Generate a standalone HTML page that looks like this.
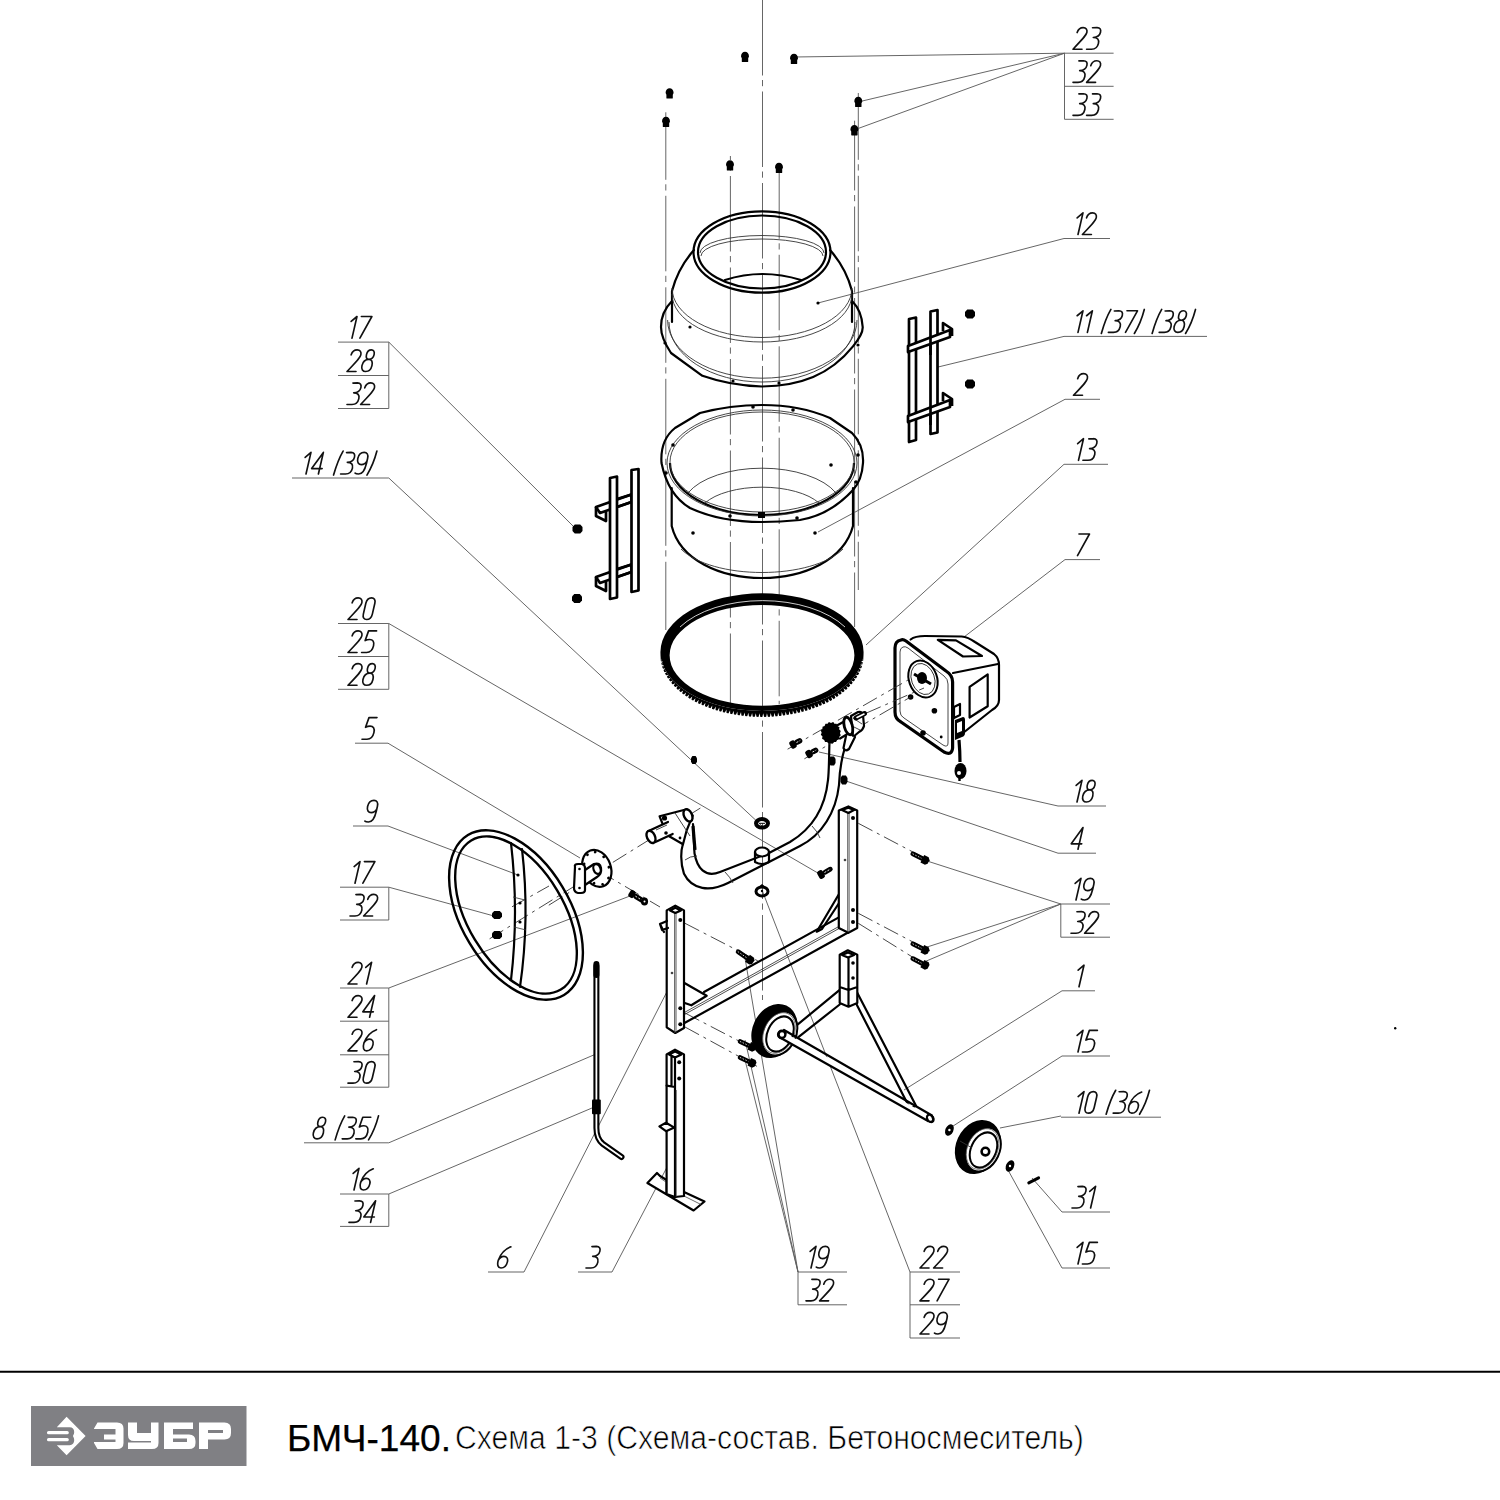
<!DOCTYPE html><html><head><meta charset="utf-8"><style>
html,body{margin:0;padding:0;background:#fff;width:1500px;height:1500px;overflow:hidden}
svg{position:absolute;left:0;top:0}
.t1{position:absolute;left:287.1px;top:1419px;font-family:"Liberation Sans",sans-serif;font-size:36px;line-height:40px;color:#000;white-space:nowrap;-webkit-text-stroke:0.25px #000;transform-origin:0 0;transform:scaleX(1.03)}
.t2{position:absolute;left:455.1px;top:1418px;font-family:"Liberation Sans",sans-serif;font-size:33px;line-height:40px;color:#000;white-space:nowrap;transform-origin:0 0;transform:scaleX(0.914);-webkit-text-stroke:0.7px #fff}
</style></head><body>
<svg width="1500" height="1500" viewBox="0 0 1500 1500">
<line x1="762.5" y1="0" x2="762.5" y2="1000" stroke="#5e5e5e" stroke-width="0.95" stroke-dasharray="75.5 4.5 6.2 5.3"/><line x1="665.8" y1="112.3" x2="665.8" y2="630" stroke="#5e5e5e" stroke-width="0.95" stroke-dasharray="75.5 4.5 6.2 5.3" stroke-dashoffset="8"/><line x1="730.4" y1="156" x2="730.4" y2="704" stroke="#5e5e5e" stroke-width="0.95" stroke-dasharray="75.5 4.5 6.2 5.3" stroke-dashoffset="-20"/><line x1="779.2" y1="158.3" x2="779.2" y2="704" stroke="#5e5e5e" stroke-width="0.95" stroke-dasharray="75.5 4.5 6.2 5.3" stroke-dashoffset="-5"/><line x1="858.3" y1="93" x2="858.3" y2="590" stroke="#5e5e5e" stroke-width="0.95" stroke-dasharray="75.5 4.5 6.2 5.3" stroke-dashoffset="8.7"/><line x1="854.6" y1="120.7" x2="854.6" y2="627" stroke="#5e5e5e" stroke-width="0.95" stroke-dasharray="75.5 4.5 6.2 5.3" stroke-dashoffset="5.7"/>
<g transform="translate(1073,49.2) skewX(-13) scale(1,0.9)" fill="none" stroke="#111" stroke-width="1.65" stroke-linecap="round" stroke-linejoin="round"><path d="M0.3,-18.5 C0.6,-22 2.6,-24 5.2,-24 C8,-24 10,-22 10,-18.5 C10,-15.5 8.5,-13 0,0 H9" transform="translate(0.00,0)" vector-effect="non-scaling-stroke"/><path d="M1,-23.8 L5.5,-24 C8.5,-24 10,-22 10,-18.8 C10,-15.3 7.8,-13.2 4,-13 C8.2,-13 10.5,-10.5 10.5,-6.5 C10.5,-2.5 8.2,0 5,0 H0" transform="translate(13.60,0)" vector-effect="non-scaling-stroke"/></g><line x1="1064.5" y1="53.2" x2="1113.6" y2="53.2" stroke="#5e5e5e" stroke-width="0.95" /><g transform="translate(1073,82.3) skewX(-13) scale(1,0.9)" fill="none" stroke="#111" stroke-width="1.65" stroke-linecap="round" stroke-linejoin="round"><path d="M1,-23.8 L5.5,-24 C8.5,-24 10,-22 10,-18.8 C10,-15.3 7.8,-13.2 4,-13 C8.2,-13 10.5,-10.5 10.5,-6.5 C10.5,-2.5 8.2,0 5,0 H0" transform="translate(0.00,0)" vector-effect="non-scaling-stroke"/><path d="M0.3,-18.5 C0.6,-22 2.6,-24 5.2,-24 C8,-24 10,-22 10,-18.5 C10,-15.5 8.5,-13 0,0 H9" transform="translate(13.60,0)" vector-effect="non-scaling-stroke"/></g><line x1="1064.5" y1="86.3" x2="1113.6" y2="86.3" stroke="#5e5e5e" stroke-width="0.95" /><g transform="translate(1073,115.3) skewX(-13) scale(1,0.9)" fill="none" stroke="#111" stroke-width="1.65" stroke-linecap="round" stroke-linejoin="round"><path d="M1,-23.8 L5.5,-24 C8.5,-24 10,-22 10,-18.8 C10,-15.3 7.8,-13.2 4,-13 C8.2,-13 10.5,-10.5 10.5,-6.5 C10.5,-2.5 8.2,0 5,0 H0" transform="translate(0.00,0)" vector-effect="non-scaling-stroke"/><path d="M1,-23.8 L5.5,-24 C8.5,-24 10,-22 10,-18.8 C10,-15.3 7.8,-13.2 4,-13 C8.2,-13 10.5,-10.5 10.5,-6.5 C10.5,-2.5 8.2,0 5,0 H0" transform="translate(13.60,0)" vector-effect="non-scaling-stroke"/></g><line x1="1064.5" y1="119.3" x2="1113.6" y2="119.3" stroke="#5e5e5e" stroke-width="0.95" /><line x1="1064.5" y1="53.2" x2="1064.5" y2="119.3" stroke="#5e5e5e" stroke-width="0.95" /><line x1="1064.5" y1="53.2" x2="794" y2="57" stroke="#5e5e5e" stroke-width="0.95" /><line x1="1064.5" y1="53.2" x2="858" y2="102" stroke="#5e5e5e" stroke-width="0.95" /><line x1="1064.5" y1="53.2" x2="854" y2="130" stroke="#5e5e5e" stroke-width="0.95" /><g transform="translate(1073,234.5) skewX(-13) scale(1,0.9)" fill="none" stroke="#111" stroke-width="1.65" stroke-linecap="round" stroke-linejoin="round"><path d="M0.3,-18.5 L5,-24 V0" transform="translate(0.00,0)" vector-effect="non-scaling-stroke"/><path d="M0.3,-18.5 C0.6,-22 2.6,-24 5.2,-24 C8,-24 10,-22 10,-18.5 C10,-15.5 8.5,-13 0,0 H9" transform="translate(9.40,0)" vector-effect="non-scaling-stroke"/></g><line x1="1064" y1="238.5" x2="1110" y2="238.5" stroke="#5e5e5e" stroke-width="0.95" /><line x1="1064" y1="238.5" x2="818" y2="303" stroke="#5e5e5e" stroke-width="0.95" /><g transform="translate(1073,332.4) skewX(-13) scale(1,0.9)" fill="none" stroke="#111" stroke-width="1.65" stroke-linecap="round" stroke-linejoin="round"><path d="M0.3,-18.5 L5,-24 V0" transform="translate(0.00,0)" vector-effect="non-scaling-stroke"/><path d="M0.3,-18.5 L5,-24 V0" transform="translate(9.40,0)" vector-effect="non-scaling-stroke"/><path d="M5.8,-25.5 C3.4,-18 2.3,-9 1.8,1.2" transform="translate(26.80,0)" vector-effect="non-scaling-stroke"/><path d="M1,-23.8 L5.5,-24 C8.5,-24 10,-22 10,-18.8 C10,-15.3 7.8,-13.2 4,-13 C8.2,-13 10.5,-10.5 10.5,-6.5 C10.5,-2.5 8.2,0 5,0 H0" transform="translate(35.40,0)" vector-effect="non-scaling-stroke"/><path d="M0,-24 H10.5 L3.5,0" transform="translate(49.00,0)" vector-effect="non-scaling-stroke"/><path d="M3.8,-25.5 C3.6,-17 2.2,-7 -0.6,1.2" transform="translate(62.20,0)" vector-effect="non-scaling-stroke"/><path d="M5.8,-25.5 C3.4,-18 2.3,-9 1.8,1.2" transform="translate(77.60,0)" vector-effect="non-scaling-stroke"/><path d="M1,-23.8 L5.5,-24 C8.5,-24 10,-22 10,-18.8 C10,-15.3 7.8,-13.2 4,-13 C8.2,-13 10.5,-10.5 10.5,-6.5 C10.5,-2.5 8.2,0 5,0 H0" transform="translate(86.20,0)" vector-effect="non-scaling-stroke"/><path d="M5.5,-13.5 C3.2,-13.5 2,-15.5 2,-18.7 C2,-22 3.6,-24 5.8,-24 C8,-24 9.6,-22 9.6,-18.8 C9.6,-15.5 8,-13.5 5.5,-13.5 C2,-13.5 0,-10.5 0,-6.5 C0,-2.5 2.2,0 5,0 C8,0 10,-2.5 10,-6.5 C10,-10.5 8.5,-13.5 5.5,-13.5 Z" transform="translate(99.80,0)" vector-effect="non-scaling-stroke"/><path d="M3.8,-25.5 C3.6,-17 2.2,-7 -0.6,1.2" transform="translate(113.40,0)" vector-effect="non-scaling-stroke"/></g><line x1="1064" y1="336.4" x2="1207" y2="336.4" stroke="#5e5e5e" stroke-width="0.95" /><line x1="1064" y1="336.4" x2="934" y2="368" stroke="#5e5e5e" stroke-width="0.95" /><g transform="translate(1073.5,395.3) skewX(-13) scale(1,0.9)" fill="none" stroke="#111" stroke-width="1.65" stroke-linecap="round" stroke-linejoin="round"><path d="M0.3,-18.5 C0.6,-22 2.6,-24 5.2,-24 C8,-24 10,-22 10,-18.5 C10,-15.5 8.5,-13 0,0 H9" transform="translate(0.00,0)" vector-effect="non-scaling-stroke"/></g><line x1="1065" y1="399.3" x2="1100" y2="399.3" stroke="#5e5e5e" stroke-width="0.95" /><line x1="1065" y1="399.3" x2="818" y2="532" stroke="#5e5e5e" stroke-width="0.95" /><g transform="translate(1073.5,460.3) skewX(-13) scale(1,0.9)" fill="none" stroke="#111" stroke-width="1.65" stroke-linecap="round" stroke-linejoin="round"><path d="M0.3,-18.5 L5,-24 V0" transform="translate(0.00,0)" vector-effect="non-scaling-stroke"/><path d="M1,-23.8 L5.5,-24 C8.5,-24 10,-22 10,-18.8 C10,-15.3 7.8,-13.2 4,-13 C8.2,-13 10.5,-10.5 10.5,-6.5 C10.5,-2.5 8.2,0 5,0 H0" transform="translate(9.40,0)" vector-effect="non-scaling-stroke"/></g><line x1="1064" y1="464.3" x2="1108" y2="464.3" stroke="#5e5e5e" stroke-width="0.95" /><line x1="1064" y1="464.3" x2="866" y2="645" stroke="#5e5e5e" stroke-width="0.95" /><g transform="translate(1074,555.6) skewX(-13) scale(1,0.9)" fill="none" stroke="#111" stroke-width="1.65" stroke-linecap="round" stroke-linejoin="round"><path d="M0,-24 H10.5 L3.5,0" transform="translate(0.00,0)" vector-effect="non-scaling-stroke"/></g><line x1="1065" y1="559.6" x2="1100" y2="559.6" stroke="#5e5e5e" stroke-width="0.95" /><line x1="1065" y1="559.6" x2="964" y2="637" stroke="#5e5e5e" stroke-width="0.95" /><g transform="translate(1072,802) skewX(-13) scale(1,0.9)" fill="none" stroke="#111" stroke-width="1.65" stroke-linecap="round" stroke-linejoin="round"><path d="M0.3,-18.5 L5,-24 V0" transform="translate(0.00,0)" vector-effect="non-scaling-stroke"/><path d="M5.5,-13.5 C3.2,-13.5 2,-15.5 2,-18.7 C2,-22 3.6,-24 5.8,-24 C8,-24 9.6,-22 9.6,-18.8 C9.6,-15.5 8,-13.5 5.5,-13.5 C2,-13.5 0,-10.5 0,-6.5 C0,-2.5 2.2,0 5,0 C8,0 10,-2.5 10,-6.5 C10,-10.5 8.5,-13.5 5.5,-13.5 Z" transform="translate(9.40,0)" vector-effect="non-scaling-stroke"/></g><line x1="1058" y1="806" x2="1106" y2="806" stroke="#5e5e5e" stroke-width="0.95" /><line x1="1058" y1="806" x2="819" y2="752" stroke="#5e5e5e" stroke-width="0.95" /><g transform="translate(1070,849.2) skewX(-13) scale(1,0.9)" fill="none" stroke="#111" stroke-width="1.65" stroke-linecap="round" stroke-linejoin="round"><path d="M8,0 V-24 L0,-6 H10.5" transform="translate(0.00,0)" vector-effect="non-scaling-stroke"/></g><line x1="1058" y1="853.2" x2="1096" y2="853.2" stroke="#5e5e5e" stroke-width="0.95" /><line x1="1058" y1="853.2" x2="843" y2="780" stroke="#5e5e5e" stroke-width="0.95" /><g transform="translate(1071,900) skewX(-13) scale(1,0.9)" fill="none" stroke="#111" stroke-width="1.65" stroke-linecap="round" stroke-linejoin="round"><path d="M0.3,-18.5 L5,-24 V0" transform="translate(0.00,0)" vector-effect="non-scaling-stroke"/><path d="M0.7,-1 C1.6,-0.2 3.2,0 4.4,0 C7.9,0 9.8,-3.5 9.8,-12 V-17.5 C9.8,-21.7 7.8,-24 5,-24 C2,-24 0,-21.7 0,-17.2 C0,-13 2.2,-10.4 5,-10.4 C7.4,-10.4 9.2,-12 9.8,-14.5" transform="translate(9.40,0)" vector-effect="non-scaling-stroke"/></g><line x1="1060.8" y1="904" x2="1110" y2="904" stroke="#5e5e5e" stroke-width="0.95" /><g transform="translate(1071,933.2) skewX(-13) scale(1,0.9)" fill="none" stroke="#111" stroke-width="1.65" stroke-linecap="round" stroke-linejoin="round"><path d="M1,-23.8 L5.5,-24 C8.5,-24 10,-22 10,-18.8 C10,-15.3 7.8,-13.2 4,-13 C8.2,-13 10.5,-10.5 10.5,-6.5 C10.5,-2.5 8.2,0 5,0 H0" transform="translate(0.00,0)" vector-effect="non-scaling-stroke"/><path d="M0.3,-18.5 C0.6,-22 2.6,-24 5.2,-24 C8,-24 10,-22 10,-18.5 C10,-15.5 8.5,-13 0,0 H9" transform="translate(13.60,0)" vector-effect="non-scaling-stroke"/></g><line x1="1060.8" y1="937.2" x2="1110" y2="937.2" stroke="#5e5e5e" stroke-width="0.95" /><line x1="1060.8" y1="904" x2="1060.8" y2="937.2" stroke="#5e5e5e" stroke-width="0.95" /><line x1="1060.8" y1="904" x2="924" y2="860" stroke="#5e5e5e" stroke-width="0.95" /><line x1="1060.8" y1="904" x2="924" y2="948" stroke="#5e5e5e" stroke-width="0.95" /><line x1="1060.8" y1="904" x2="924" y2="962" stroke="#5e5e5e" stroke-width="0.95" /><g transform="translate(1074,986.8) skewX(-13) scale(1,0.9)" fill="none" stroke="#111" stroke-width="1.65" stroke-linecap="round" stroke-linejoin="round"><path d="M0.3,-18.5 L5,-24 V0" transform="translate(0.00,0)" vector-effect="non-scaling-stroke"/></g><line x1="1062" y1="990.8" x2="1095" y2="990.8" stroke="#5e5e5e" stroke-width="0.95" /><line x1="1062" y1="990.8" x2="904" y2="1090" stroke="#5e5e5e" stroke-width="0.95" /><g transform="translate(1073,1052) skewX(-13) scale(1,0.9)" fill="none" stroke="#111" stroke-width="1.65" stroke-linecap="round" stroke-linejoin="round"><path d="M0.3,-18.5 L5,-24 V0" transform="translate(0.00,0)" vector-effect="non-scaling-stroke"/><path d="M10,-24 H2 L0.8,-13.2 C2,-14 3.5,-14.5 5,-14.5 C8.3,-14.5 10.4,-12 10.4,-7.3 C10.4,-2.6 8.2,0 5,0 H0" transform="translate(9.40,0)" vector-effect="non-scaling-stroke"/></g><line x1="1062" y1="1056" x2="1110" y2="1056" stroke="#5e5e5e" stroke-width="0.95" /><line x1="1062" y1="1056" x2="950" y2="1128" stroke="#5e5e5e" stroke-width="0.95" /><g transform="translate(1074,1113.2) skewX(-13) scale(1,0.9)" fill="none" stroke="#111" stroke-width="1.65" stroke-linecap="round" stroke-linejoin="round"><path d="M0.3,-18.5 L5,-24 V0" transform="translate(0.00,0)" vector-effect="non-scaling-stroke"/><path d="M0.5,-18 C0.5,-22 2.5,-24 5,-24 C7.5,-24 9.5,-22 9.5,-18 V-6 C9.5,-2 7.5,0 5,0 C2.5,0 0.5,-2 0.5,-6 Z" transform="translate(9.40,0)" vector-effect="non-scaling-stroke"/><path d="M5.8,-25.5 C3.4,-18 2.3,-9 1.8,1.2" transform="translate(30.60,0)" vector-effect="non-scaling-stroke"/><path d="M1,-23.8 L5.5,-24 C8.5,-24 10,-22 10,-18.8 C10,-15.3 7.8,-13.2 4,-13 C8.2,-13 10.5,-10.5 10.5,-6.5 C10.5,-2.5 8.2,0 5,0 H0" transform="translate(39.20,0)" vector-effect="non-scaling-stroke"/><path d="M10,-23.5 C5.5,-21.5 1.4,-16.5 0.5,-8.5 C0.2,-3.5 2,0 5,0 C8.2,0 10,-3 10,-6.8 C10,-10.5 8,-13 5.2,-13 C2.8,-13 1.2,-11.2 0.5,-8.5" transform="translate(52.80,0)" vector-effect="non-scaling-stroke"/><path d="M3.8,-25.5 C3.6,-17 2.2,-7 -0.6,1.2" transform="translate(66.40,0)" vector-effect="non-scaling-stroke"/></g><line x1="1061" y1="1117.2" x2="1161" y2="1117.2" stroke="#5e5e5e" stroke-width="0.95" /><line x1="1061" y1="1116" x2="1000" y2="1128" stroke="#5e5e5e" stroke-width="0.95" /><g transform="translate(1072,1208) skewX(-13) scale(1,0.9)" fill="none" stroke="#111" stroke-width="1.65" stroke-linecap="round" stroke-linejoin="round"><path d="M1,-23.8 L5.5,-24 C8.5,-24 10,-22 10,-18.8 C10,-15.3 7.8,-13.2 4,-13 C8.2,-13 10.5,-10.5 10.5,-6.5 C10.5,-2.5 8.2,0 5,0 H0" transform="translate(0.00,0)" vector-effect="non-scaling-stroke"/><path d="M0.3,-18.5 L5,-24 V0" transform="translate(13.60,0)" vector-effect="non-scaling-stroke"/></g><line x1="1062" y1="1212" x2="1110" y2="1212" stroke="#5e5e5e" stroke-width="0.95" /><line x1="1062" y1="1212" x2="1032" y2="1178" stroke="#5e5e5e" stroke-width="0.95" /><g transform="translate(1073,1264) skewX(-13) scale(1,0.9)" fill="none" stroke="#111" stroke-width="1.65" stroke-linecap="round" stroke-linejoin="round"><path d="M0.3,-18.5 L5,-24 V0" transform="translate(0.00,0)" vector-effect="non-scaling-stroke"/><path d="M10,-24 H2 L0.8,-13.2 C2,-14 3.5,-14.5 5,-14.5 C8.3,-14.5 10.4,-12 10.4,-7.3 C10.4,-2.6 8.2,0 5,0 H0" transform="translate(9.40,0)" vector-effect="non-scaling-stroke"/></g><line x1="1062" y1="1268" x2="1110" y2="1268" stroke="#5e5e5e" stroke-width="0.95" /><line x1="1062" y1="1268" x2="1008" y2="1170" stroke="#5e5e5e" stroke-width="0.95" /><g transform="translate(806,1268) skewX(-13) scale(1,0.9)" fill="none" stroke="#111" stroke-width="1.65" stroke-linecap="round" stroke-linejoin="round"><path d="M0.3,-18.5 L5,-24 V0" transform="translate(0.00,0)" vector-effect="non-scaling-stroke"/><path d="M0.7,-1 C1.6,-0.2 3.2,0 4.4,0 C7.9,0 9.8,-3.5 9.8,-12 V-17.5 C9.8,-21.7 7.8,-24 5,-24 C2,-24 0,-21.7 0,-17.2 C0,-13 2.2,-10.4 5,-10.4 C7.4,-10.4 9.2,-12 9.8,-14.5" transform="translate(9.40,0)" vector-effect="non-scaling-stroke"/></g><line x1="798" y1="1272" x2="847" y2="1272" stroke="#5e5e5e" stroke-width="0.95" /><g transform="translate(806,1300.8) skewX(-13) scale(1,0.9)" fill="none" stroke="#111" stroke-width="1.65" stroke-linecap="round" stroke-linejoin="round"><path d="M1,-23.8 L5.5,-24 C8.5,-24 10,-22 10,-18.8 C10,-15.3 7.8,-13.2 4,-13 C8.2,-13 10.5,-10.5 10.5,-6.5 C10.5,-2.5 8.2,0 5,0 H0" transform="translate(0.00,0)" vector-effect="non-scaling-stroke"/><path d="M0.3,-18.5 C0.6,-22 2.6,-24 5.2,-24 C8,-24 10,-22 10,-18.5 C10,-15.5 8.5,-13 0,0 H9" transform="translate(13.60,0)" vector-effect="non-scaling-stroke"/></g><line x1="798" y1="1304.8" x2="847" y2="1304.8" stroke="#5e5e5e" stroke-width="0.95" /><line x1="798" y1="1272" x2="798" y2="1304.8" stroke="#5e5e5e" stroke-width="0.95" /><line x1="798" y1="1272" x2="745" y2="958" stroke="#5e5e5e" stroke-width="0.95" /><line x1="798" y1="1272" x2="745" y2="1040" stroke="#5e5e5e" stroke-width="0.95" /><line x1="798" y1="1272" x2="745" y2="1060" stroke="#5e5e5e" stroke-width="0.95" /><g transform="translate(920,1268) skewX(-13) scale(1,0.9)" fill="none" stroke="#111" stroke-width="1.65" stroke-linecap="round" stroke-linejoin="round"><path d="M0.3,-18.5 C0.6,-22 2.6,-24 5.2,-24 C8,-24 10,-22 10,-18.5 C10,-15.5 8.5,-13 0,0 H9" transform="translate(0.00,0)" vector-effect="non-scaling-stroke"/><path d="M0.3,-18.5 C0.6,-22 2.6,-24 5.2,-24 C8,-24 10,-22 10,-18.5 C10,-15.5 8.5,-13 0,0 H9" transform="translate(13.60,0)" vector-effect="non-scaling-stroke"/></g><line x1="910" y1="1272" x2="960" y2="1272" stroke="#5e5e5e" stroke-width="0.95" /><g transform="translate(920,1300.8) skewX(-13) scale(1,0.9)" fill="none" stroke="#111" stroke-width="1.65" stroke-linecap="round" stroke-linejoin="round"><path d="M0.3,-18.5 C0.6,-22 2.6,-24 5.2,-24 C8,-24 10,-22 10,-18.5 C10,-15.5 8.5,-13 0,0 H9" transform="translate(0.00,0)" vector-effect="non-scaling-stroke"/><path d="M0,-24 H10.5 L3.5,0" transform="translate(13.60,0)" vector-effect="non-scaling-stroke"/></g><line x1="910" y1="1304.8" x2="960" y2="1304.8" stroke="#5e5e5e" stroke-width="0.95" /><g transform="translate(920,1334) skewX(-13) scale(1,0.9)" fill="none" stroke="#111" stroke-width="1.65" stroke-linecap="round" stroke-linejoin="round"><path d="M0.3,-18.5 C0.6,-22 2.6,-24 5.2,-24 C8,-24 10,-22 10,-18.5 C10,-15.5 8.5,-13 0,0 H9" transform="translate(0.00,0)" vector-effect="non-scaling-stroke"/><path d="M0.7,-1 C1.6,-0.2 3.2,0 4.4,0 C7.9,0 9.8,-3.5 9.8,-12 V-17.5 C9.8,-21.7 7.8,-24 5,-24 C2,-24 0,-21.7 0,-17.2 C0,-13 2.2,-10.4 5,-10.4 C7.4,-10.4 9.2,-12 9.8,-14.5" transform="translate(13.60,0)" vector-effect="non-scaling-stroke"/></g><line x1="910" y1="1338" x2="960" y2="1338" stroke="#5e5e5e" stroke-width="0.95" /><line x1="910" y1="1272" x2="910" y2="1338" stroke="#5e5e5e" stroke-width="0.95" /><line x1="910" y1="1272" x2="762" y2="890" stroke="#5e5e5e" stroke-width="0.95" /><g transform="translate(347,338.1) skewX(-13) scale(1,0.9)" fill="none" stroke="#111" stroke-width="1.65" stroke-linecap="round" stroke-linejoin="round"><path d="M0.3,-18.5 L5,-24 V0" transform="translate(0.00,0)" vector-effect="non-scaling-stroke"/><path d="M0,-24 H10.5 L3.5,0" transform="translate(9.40,0)" vector-effect="non-scaling-stroke"/></g><line x1="338" y1="342.1" x2="388.8" y2="342.1" stroke="#5e5e5e" stroke-width="0.95" /><g transform="translate(347,371.5) skewX(-13) scale(1,0.9)" fill="none" stroke="#111" stroke-width="1.65" stroke-linecap="round" stroke-linejoin="round"><path d="M0.3,-18.5 C0.6,-22 2.6,-24 5.2,-24 C8,-24 10,-22 10,-18.5 C10,-15.5 8.5,-13 0,0 H9" transform="translate(0.00,0)" vector-effect="non-scaling-stroke"/><path d="M5.5,-13.5 C3.2,-13.5 2,-15.5 2,-18.7 C2,-22 3.6,-24 5.8,-24 C8,-24 9.6,-22 9.6,-18.8 C9.6,-15.5 8,-13.5 5.5,-13.5 C2,-13.5 0,-10.5 0,-6.5 C0,-2.5 2.2,0 5,0 C8,0 10,-2.5 10,-6.5 C10,-10.5 8.5,-13.5 5.5,-13.5 Z" transform="translate(13.60,0)" vector-effect="non-scaling-stroke"/></g><line x1="338" y1="375.5" x2="388.8" y2="375.5" stroke="#5e5e5e" stroke-width="0.95" /><g transform="translate(347,404.5) skewX(-13) scale(1,0.9)" fill="none" stroke="#111" stroke-width="1.65" stroke-linecap="round" stroke-linejoin="round"><path d="M1,-23.8 L5.5,-24 C8.5,-24 10,-22 10,-18.8 C10,-15.3 7.8,-13.2 4,-13 C8.2,-13 10.5,-10.5 10.5,-6.5 C10.5,-2.5 8.2,0 5,0 H0" transform="translate(0.00,0)" vector-effect="non-scaling-stroke"/><path d="M0.3,-18.5 C0.6,-22 2.6,-24 5.2,-24 C8,-24 10,-22 10,-18.5 C10,-15.5 8.5,-13 0,0 H9" transform="translate(13.60,0)" vector-effect="non-scaling-stroke"/></g><line x1="338" y1="408.5" x2="388.8" y2="408.5" stroke="#5e5e5e" stroke-width="0.95" /><line x1="388.8" y1="342.1" x2="388.8" y2="408.5" stroke="#5e5e5e" stroke-width="0.95" /><line x1="388.8" y1="342.1" x2="576" y2="529" stroke="#5e5e5e" stroke-width="0.95" /><g transform="translate(301,474) skewX(-13) scale(1,0.9)" fill="none" stroke="#111" stroke-width="1.65" stroke-linecap="round" stroke-linejoin="round"><path d="M0.3,-18.5 L5,-24 V0" transform="translate(0.00,0)" vector-effect="non-scaling-stroke"/><path d="M8,0 V-24 L0,-6 H10.5" transform="translate(9.40,0)" vector-effect="non-scaling-stroke"/><path d="M5.8,-25.5 C3.4,-18 2.3,-9 1.8,1.2" transform="translate(31.00,0)" vector-effect="non-scaling-stroke"/><path d="M1,-23.8 L5.5,-24 C8.5,-24 10,-22 10,-18.8 C10,-15.3 7.8,-13.2 4,-13 C8.2,-13 10.5,-10.5 10.5,-6.5 C10.5,-2.5 8.2,0 5,0 H0" transform="translate(39.60,0)" vector-effect="non-scaling-stroke"/><path d="M0.7,-1 C1.6,-0.2 3.2,0 4.4,0 C7.9,0 9.8,-3.5 9.8,-12 V-17.5 C9.8,-21.7 7.8,-24 5,-24 C2,-24 0,-21.7 0,-17.2 C0,-13 2.2,-10.4 5,-10.4 C7.4,-10.4 9.2,-12 9.8,-14.5" transform="translate(53.20,0)" vector-effect="non-scaling-stroke"/><path d="M3.8,-25.5 C3.6,-17 2.2,-7 -0.6,1.2" transform="translate(66.80,0)" vector-effect="non-scaling-stroke"/></g><line x1="292" y1="478" x2="388.8" y2="478" stroke="#5e5e5e" stroke-width="0.95" /><line x1="388.8" y1="478" x2="762" y2="826" stroke="#5e5e5e" stroke-width="0.95" /><g transform="translate(348,619.5) skewX(-13) scale(1,0.9)" fill="none" stroke="#111" stroke-width="1.65" stroke-linecap="round" stroke-linejoin="round"><path d="M0.3,-18.5 C0.6,-22 2.6,-24 5.2,-24 C8,-24 10,-22 10,-18.5 C10,-15.5 8.5,-13 0,0 H9" transform="translate(0.00,0)" vector-effect="non-scaling-stroke"/><path d="M0.5,-18 C0.5,-22 2.5,-24 5,-24 C7.5,-24 9.5,-22 9.5,-18 V-6 C9.5,-2 7.5,0 5,0 C2.5,0 0.5,-2 0.5,-6 Z" transform="translate(13.60,0)" vector-effect="non-scaling-stroke"/></g><line x1="338" y1="623.5" x2="388.8" y2="623.5" stroke="#5e5e5e" stroke-width="0.95" /><g transform="translate(348,652.5) skewX(-13) scale(1,0.9)" fill="none" stroke="#111" stroke-width="1.65" stroke-linecap="round" stroke-linejoin="round"><path d="M0.3,-18.5 C0.6,-22 2.6,-24 5.2,-24 C8,-24 10,-22 10,-18.5 C10,-15.5 8.5,-13 0,0 H9" transform="translate(0.00,0)" vector-effect="non-scaling-stroke"/><path d="M10,-24 H2 L0.8,-13.2 C2,-14 3.5,-14.5 5,-14.5 C8.3,-14.5 10.4,-12 10.4,-7.3 C10.4,-2.6 8.2,0 5,0 H0" transform="translate(13.60,0)" vector-effect="non-scaling-stroke"/></g><line x1="338" y1="656.5" x2="388.8" y2="656.5" stroke="#5e5e5e" stroke-width="0.95" /><g transform="translate(348,685.3) skewX(-13) scale(1,0.9)" fill="none" stroke="#111" stroke-width="1.65" stroke-linecap="round" stroke-linejoin="round"><path d="M0.3,-18.5 C0.6,-22 2.6,-24 5.2,-24 C8,-24 10,-22 10,-18.5 C10,-15.5 8.5,-13 0,0 H9" transform="translate(0.00,0)" vector-effect="non-scaling-stroke"/><path d="M5.5,-13.5 C3.2,-13.5 2,-15.5 2,-18.7 C2,-22 3.6,-24 5.8,-24 C8,-24 9.6,-22 9.6,-18.8 C9.6,-15.5 8,-13.5 5.5,-13.5 C2,-13.5 0,-10.5 0,-6.5 C0,-2.5 2.2,0 5,0 C8,0 10,-2.5 10,-6.5 C10,-10.5 8.5,-13.5 5.5,-13.5 Z" transform="translate(13.60,0)" vector-effect="non-scaling-stroke"/></g><line x1="338" y1="689.3" x2="388.8" y2="689.3" stroke="#5e5e5e" stroke-width="0.95" /><line x1="388.8" y1="623.5" x2="388.8" y2="689.3" stroke="#5e5e5e" stroke-width="0.95" /><line x1="388.8" y1="623.5" x2="823" y2="876" stroke="#5e5e5e" stroke-width="0.95" /><g transform="translate(362,739.2) skewX(-13) scale(1,0.9)" fill="none" stroke="#111" stroke-width="1.65" stroke-linecap="round" stroke-linejoin="round"><path d="M10,-24 H2 L0.8,-13.2 C2,-14 3.5,-14.5 5,-14.5 C8.3,-14.5 10.4,-12 10.4,-7.3 C10.4,-2.6 8.2,0 5,0 H0" transform="translate(0.00,0)" vector-effect="non-scaling-stroke"/></g><line x1="355" y1="743.2" x2="388" y2="743.2" stroke="#5e5e5e" stroke-width="0.95" /><line x1="388" y1="743.2" x2="580" y2="858" stroke="#5e5e5e" stroke-width="0.95" /><g transform="translate(364,822) skewX(-13) scale(1,0.9)" fill="none" stroke="#111" stroke-width="1.65" stroke-linecap="round" stroke-linejoin="round"><path d="M0.7,-1 C1.6,-0.2 3.2,0 4.4,0 C7.9,0 9.8,-3.5 9.8,-12 V-17.5 C9.8,-21.7 7.8,-24 5,-24 C2,-24 0,-21.7 0,-17.2 C0,-13 2.2,-10.4 5,-10.4 C7.4,-10.4 9.2,-12 9.8,-14.5" transform="translate(0.00,0)" vector-effect="non-scaling-stroke"/></g><line x1="353" y1="826" x2="388" y2="826" stroke="#5e5e5e" stroke-width="0.95" /><line x1="388" y1="826" x2="518" y2="875" stroke="#5e5e5e" stroke-width="0.95" /><g transform="translate(350,883.2) skewX(-13) scale(1,0.9)" fill="none" stroke="#111" stroke-width="1.65" stroke-linecap="round" stroke-linejoin="round"><path d="M0.3,-18.5 L5,-24 V0" transform="translate(0.00,0)" vector-effect="non-scaling-stroke"/><path d="M0,-24 H10.5 L3.5,0" transform="translate(9.40,0)" vector-effect="non-scaling-stroke"/></g><line x1="340" y1="887.2" x2="388.8" y2="887.2" stroke="#5e5e5e" stroke-width="0.95" /><g transform="translate(350,916) skewX(-13) scale(1,0.9)" fill="none" stroke="#111" stroke-width="1.65" stroke-linecap="round" stroke-linejoin="round"><path d="M1,-23.8 L5.5,-24 C8.5,-24 10,-22 10,-18.8 C10,-15.3 7.8,-13.2 4,-13 C8.2,-13 10.5,-10.5 10.5,-6.5 C10.5,-2.5 8.2,0 5,0 H0" transform="translate(0.00,0)" vector-effect="non-scaling-stroke"/><path d="M0.3,-18.5 C0.6,-22 2.6,-24 5.2,-24 C8,-24 10,-22 10,-18.5 C10,-15.5 8.5,-13 0,0 H9" transform="translate(13.60,0)" vector-effect="non-scaling-stroke"/></g><line x1="340" y1="920" x2="388.8" y2="920" stroke="#5e5e5e" stroke-width="0.95" /><line x1="388.8" y1="887.2" x2="388.8" y2="920" stroke="#5e5e5e" stroke-width="0.95" /><line x1="388.8" y1="887.2" x2="494" y2="916" stroke="#5e5e5e" stroke-width="0.95" /><g transform="translate(348,984) skewX(-13) scale(1,0.9)" fill="none" stroke="#111" stroke-width="1.65" stroke-linecap="round" stroke-linejoin="round"><path d="M0.3,-18.5 C0.6,-22 2.6,-24 5.2,-24 C8,-24 10,-22 10,-18.5 C10,-15.5 8.5,-13 0,0 H9" transform="translate(0.00,0)" vector-effect="non-scaling-stroke"/><path d="M0.3,-18.5 L5,-24 V0" transform="translate(13.60,0)" vector-effect="non-scaling-stroke"/></g><line x1="340" y1="988" x2="388.8" y2="988" stroke="#5e5e5e" stroke-width="0.95" /><g transform="translate(348,1017.2) skewX(-13) scale(1,0.9)" fill="none" stroke="#111" stroke-width="1.65" stroke-linecap="round" stroke-linejoin="round"><path d="M0.3,-18.5 C0.6,-22 2.6,-24 5.2,-24 C8,-24 10,-22 10,-18.5 C10,-15.5 8.5,-13 0,0 H9" transform="translate(0.00,0)" vector-effect="non-scaling-stroke"/><path d="M8,0 V-24 L0,-6 H10.5" transform="translate(13.60,0)" vector-effect="non-scaling-stroke"/></g><line x1="340" y1="1021.2" x2="388.8" y2="1021.2" stroke="#5e5e5e" stroke-width="0.95" /><g transform="translate(348,1050.8) skewX(-13) scale(1,0.9)" fill="none" stroke="#111" stroke-width="1.65" stroke-linecap="round" stroke-linejoin="round"><path d="M0.3,-18.5 C0.6,-22 2.6,-24 5.2,-24 C8,-24 10,-22 10,-18.5 C10,-15.5 8.5,-13 0,0 H9" transform="translate(0.00,0)" vector-effect="non-scaling-stroke"/><path d="M10,-23.5 C5.5,-21.5 1.4,-16.5 0.5,-8.5 C0.2,-3.5 2,0 5,0 C8.2,0 10,-3 10,-6.8 C10,-10.5 8,-13 5.2,-13 C2.8,-13 1.2,-11.2 0.5,-8.5" transform="translate(13.60,0)" vector-effect="non-scaling-stroke"/></g><line x1="340" y1="1054.8" x2="388.8" y2="1054.8" stroke="#5e5e5e" stroke-width="0.95" /><g transform="translate(348,1083.2) skewX(-13) scale(1,0.9)" fill="none" stroke="#111" stroke-width="1.65" stroke-linecap="round" stroke-linejoin="round"><path d="M1,-23.8 L5.5,-24 C8.5,-24 10,-22 10,-18.8 C10,-15.3 7.8,-13.2 4,-13 C8.2,-13 10.5,-10.5 10.5,-6.5 C10.5,-2.5 8.2,0 5,0 H0" transform="translate(0.00,0)" vector-effect="non-scaling-stroke"/><path d="M0.5,-18 C0.5,-22 2.5,-24 5,-24 C7.5,-24 9.5,-22 9.5,-18 V-6 C9.5,-2 7.5,0 5,0 C2.5,0 0.5,-2 0.5,-6 Z" transform="translate(13.60,0)" vector-effect="non-scaling-stroke"/></g><line x1="340" y1="1087.2" x2="388.8" y2="1087.2" stroke="#5e5e5e" stroke-width="0.95" /><line x1="388.8" y1="988" x2="388.8" y2="1087.2" stroke="#5e5e5e" stroke-width="0.95" /><line x1="388.8" y1="988" x2="630" y2="896" stroke="#5e5e5e" stroke-width="0.95" /><g transform="translate(312,1138.8) skewX(-13) scale(1,0.9)" fill="none" stroke="#111" stroke-width="1.65" stroke-linecap="round" stroke-linejoin="round"><path d="M5.5,-13.5 C3.2,-13.5 2,-15.5 2,-18.7 C2,-22 3.6,-24 5.8,-24 C8,-24 9.6,-22 9.6,-18.8 C9.6,-15.5 8,-13.5 5.5,-13.5 C2,-13.5 0,-10.5 0,-6.5 C0,-2.5 2.2,0 5,0 C8,0 10,-2.5 10,-6.5 C10,-10.5 8.5,-13.5 5.5,-13.5 Z" transform="translate(0.00,0)" vector-effect="non-scaling-stroke"/><path d="M5.8,-25.5 C3.4,-18 2.3,-9 1.8,1.2" transform="translate(21.60,0)" vector-effect="non-scaling-stroke"/><path d="M1,-23.8 L5.5,-24 C8.5,-24 10,-22 10,-18.8 C10,-15.3 7.8,-13.2 4,-13 C8.2,-13 10.5,-10.5 10.5,-6.5 C10.5,-2.5 8.2,0 5,0 H0" transform="translate(30.20,0)" vector-effect="non-scaling-stroke"/><path d="M10,-24 H2 L0.8,-13.2 C2,-14 3.5,-14.5 5,-14.5 C8.3,-14.5 10.4,-12 10.4,-7.3 C10.4,-2.6 8.2,0 5,0 H0" transform="translate(43.80,0)" vector-effect="non-scaling-stroke"/><path d="M3.8,-25.5 C3.6,-17 2.2,-7 -0.6,1.2" transform="translate(57.40,0)" vector-effect="non-scaling-stroke"/></g><line x1="304" y1="1142.8" x2="388.8" y2="1142.8" stroke="#5e5e5e" stroke-width="0.95" /><line x1="388.8" y1="1142.8" x2="596" y2="1054" stroke="#5e5e5e" stroke-width="0.95" /><g transform="translate(349,1190) skewX(-13) scale(1,0.9)" fill="none" stroke="#111" stroke-width="1.65" stroke-linecap="round" stroke-linejoin="round"><path d="M0.3,-18.5 L5,-24 V0" transform="translate(0.00,0)" vector-effect="non-scaling-stroke"/><path d="M10,-23.5 C5.5,-21.5 1.4,-16.5 0.5,-8.5 C0.2,-3.5 2,0 5,0 C8.2,0 10,-3 10,-6.8 C10,-10.5 8,-13 5.2,-13 C2.8,-13 1.2,-11.2 0.5,-8.5" transform="translate(9.40,0)" vector-effect="non-scaling-stroke"/></g><line x1="340" y1="1194" x2="388.8" y2="1194" stroke="#5e5e5e" stroke-width="0.95" /><g transform="translate(349,1222.4) skewX(-13) scale(1,0.9)" fill="none" stroke="#111" stroke-width="1.65" stroke-linecap="round" stroke-linejoin="round"><path d="M1,-23.8 L5.5,-24 C8.5,-24 10,-22 10,-18.8 C10,-15.3 7.8,-13.2 4,-13 C8.2,-13 10.5,-10.5 10.5,-6.5 C10.5,-2.5 8.2,0 5,0 H0" transform="translate(0.00,0)" vector-effect="non-scaling-stroke"/><path d="M8,0 V-24 L0,-6 H10.5" transform="translate(13.60,0)" vector-effect="non-scaling-stroke"/></g><line x1="340" y1="1226.4" x2="388.8" y2="1226.4" stroke="#5e5e5e" stroke-width="0.95" /><line x1="388.8" y1="1194" x2="388.8" y2="1226.4" stroke="#5e5e5e" stroke-width="0.95" /><line x1="388.8" y1="1194" x2="592" y2="1108" stroke="#5e5e5e" stroke-width="0.95" /><g transform="translate(496,1268) skewX(-13) scale(1,0.9)" fill="none" stroke="#111" stroke-width="1.65" stroke-linecap="round" stroke-linejoin="round"><path d="M10,-23.5 C5.5,-21.5 1.4,-16.5 0.5,-8.5 C0.2,-3.5 2,0 5,0 C8.2,0 10,-3 10,-6.8 C10,-10.5 8,-13 5.2,-13 C2.8,-13 1.2,-11.2 0.5,-8.5" transform="translate(0.00,0)" vector-effect="non-scaling-stroke"/></g><line x1="488" y1="1272" x2="524" y2="1272" stroke="#5e5e5e" stroke-width="0.95" /><line x1="524" y1="1272" x2="677" y2="972" stroke="#5e5e5e" stroke-width="0.95" /><g transform="translate(586,1268) skewX(-13) scale(1,0.9)" fill="none" stroke="#111" stroke-width="1.65" stroke-linecap="round" stroke-linejoin="round"><path d="M1,-23.8 L5.5,-24 C8.5,-24 10,-22 10,-18.8 C10,-15.3 7.8,-13.2 4,-13 C8.2,-13 10.5,-10.5 10.5,-6.5 C10.5,-2.5 8.2,0 5,0 H0" transform="translate(0.00,0)" vector-effect="non-scaling-stroke"/></g><line x1="578" y1="1272" x2="612" y2="1272" stroke="#5e5e5e" stroke-width="0.95" /><line x1="612" y1="1272" x2="676" y2="1150" stroke="#5e5e5e" stroke-width="0.95" />
<path transform="translate(745,57)" fill="#000" d="M-4,-0.5 C-4,-3.6 -2.2,-5.3 0,-5.3 C2.2,-5.3 4,-3.6 4,-0.5 L3.2,1.2 V4.4 Q3.2,5 2.6,5 H-2.6 Q-3.2,5 -3.2,4.4 V1.2 Z"/><path transform="translate(794,59)" fill="#000" d="M-4,-0.5 C-4,-3.6 -2.2,-5.3 0,-5.3 C2.2,-5.3 4,-3.6 4,-0.5 L3.2,1.2 V4.4 Q3.2,5 2.6,5 H-2.6 Q-3.2,5 -3.2,4.4 V1.2 Z"/><path transform="translate(669.6,93.6)" fill="#000" d="M-4,-0.5 C-4,-3.6 -2.2,-5.3 0,-5.3 C2.2,-5.3 4,-3.6 4,-0.5 L3.2,1.2 V4.4 Q3.2,5 2.6,5 H-2.6 Q-3.2,5 -3.2,4.4 V1.2 Z"/><path transform="translate(666,122)" fill="#000" d="M-4,-0.5 C-4,-3.6 -2.2,-5.3 0,-5.3 C2.2,-5.3 4,-3.6 4,-0.5 L3.2,1.2 V4.4 Q3.2,5 2.6,5 H-2.6 Q-3.2,5 -3.2,4.4 V1.2 Z"/><path transform="translate(858.3,102)" fill="#000" d="M-4,-0.5 C-4,-3.6 -2.2,-5.3 0,-5.3 C2.2,-5.3 4,-3.6 4,-0.5 L3.2,1.2 V4.4 Q3.2,5 2.6,5 H-2.6 Q-3.2,5 -3.2,4.4 V1.2 Z"/><path transform="translate(854.4,130.4)" fill="#000" d="M-4,-0.5 C-4,-3.6 -2.2,-5.3 0,-5.3 C2.2,-5.3 4,-3.6 4,-0.5 L3.2,1.2 V4.4 Q3.2,5 2.6,5 H-2.6 Q-3.2,5 -3.2,4.4 V1.2 Z"/><path transform="translate(730,165.6)" fill="#000" d="M-4,-0.5 C-4,-3.6 -2.2,-5.3 0,-5.3 C2.2,-5.3 4,-3.6 4,-0.5 L3.2,1.2 V4.4 Q3.2,5 2.6,5 H-2.6 Q-3.2,5 -3.2,4.4 V1.2 Z"/><path transform="translate(779,168)" fill="#000" d="M-4,-0.5 C-4,-3.6 -2.2,-5.3 0,-5.3 C2.2,-5.3 4,-3.6 4,-0.5 L3.2,1.2 V4.4 Q3.2,5 2.6,5 H-2.6 Q-3.2,5 -3.2,4.4 V1.2 Z"/><g transform="translate(970,314) rotate(0)"><path d="M-5.0,-2.025 L-2.75,-4.5 H2.75 L5.0,-2.025 V2.025 L2.75,4.5 H-2.75 L-5.0,2.025 Z" fill="#000"/></g><g transform="translate(970,384) rotate(0)"><path d="M-5.0,-2.025 L-2.75,-4.5 H2.75 L5.0,-2.025 V2.025 L2.75,4.5 H-2.75 L-5.0,2.025 Z" fill="#000"/></g><g transform="translate(577.5,529) rotate(0)"><path d="M-5.0,-2.025 L-2.75,-4.5 H2.75 L5.0,-2.025 V2.025 L2.75,4.5 H-2.75 L-5.0,2.025 Z" fill="#000"/></g><g transform="translate(577,598.5) rotate(0)"><path d="M-5.0,-2.025 L-2.75,-4.5 H2.75 L5.0,-2.025 V2.025 L2.75,4.5 H-2.75 L-5.0,2.025 Z" fill="#000"/></g><path d="M672,301 C666,307 661,316 661,327 C661,334 663,341 671,353 L702.4,375.8 C720,382 740,386 762,386.5 C800,386 830,375 853,346.4 C860,338 863,332 862.7,327 C862,316 858,307 852.3,301.3" fill="none" stroke="#000" stroke-width="2.2" stroke-linejoin="round" stroke-linecap="round"/><path d="M672,322 V291 Q678,268 694,250 M852,322 V291 Q846,268 830,250" fill="none" stroke="#000" stroke-width="2.2" stroke-linejoin="round" stroke-linecap="round"/><ellipse cx="762" cy="252" rx="68.5" ry="40.7" fill="none" stroke="#000" stroke-width="2.2" stroke-linejoin="round" stroke-linecap="round"/><ellipse cx="762" cy="252" rx="64" ry="36.5" fill="none" stroke="#000" stroke-width="2.2" stroke-linejoin="round" stroke-linecap="round"/><path d="M725,280 Q762,268 801,280" fill="none" stroke="#000" stroke-width="2.2" stroke-linejoin="round" stroke-linecap="round"/><path d="M700,253 A62,17.5 0 0 1 824,253" fill="none" stroke="#333" stroke-width="0.9"/><path d="M701,256 A61,17 0 0 1 823,256" fill="none" stroke="#333" stroke-width="0.9"/><path d="M672,288 A90,49.5 0 0 0 852,288" fill="none" stroke="#333" stroke-width="0.9"/><path d="M672,294 A90,48 0 0 0 852,294" fill="none" stroke="#333" stroke-width="0.9"/><path d="M667.6,320 A94.7,58.2 0 0 0 857,320" fill="none" stroke="#333" stroke-width="0.9"/><path d="M669,322 A93,60 0 0 0 855,322" fill="none" stroke="#333" stroke-width="0.9"/><circle cx="733" cy="381" r="1.6" fill="#000"/><circle cx="779" cy="383" r="1.6" fill="#000"/><circle cx="665" cy="343" r="1.6" fill="#000"/><circle cx="858" cy="345" r="1.6" fill="#000"/><circle cx="690" cy="327" r="1.6" fill="#000"/><circle cx="818" cy="303" r="1.6" fill="#000"/><path d="M671.7,488 V526 C680,560 720,578 762,578 C804,578 844,560 853,526 V488" fill="none" stroke="#000" stroke-width="2.2" stroke-linejoin="round" stroke-linecap="round"/><path d="M681,549 C696,564 728,572.5 762,572.5 C796,572.5 828,564 843,549" fill="none" stroke="#333" stroke-width="0.9"/><path d="M670,463 A92,52 0 0 0 854,463" fill="none" stroke="#000" stroke-width="2.2"/><path d="M661.5,463 Q660,440 675,428 L700,413 Q730,405 762,405 Q800,405 830,418 L852,433 Q864,445 863,463 Q862,480 853,490 Q830,515 800,520 Q780,522 762,522 Q720,522 690,508 Q668,495 661.5,463 Z" fill="none" stroke="#000" stroke-width="2.2" stroke-linejoin="round" stroke-linecap="round"/><ellipse cx="762" cy="463" rx="95" ry="53" fill="none" stroke="#333" stroke-width="0.9"/><ellipse cx="762" cy="462" rx="92" ry="50" fill="none" stroke="#333" stroke-width="0.9"/><path d="M688,493 A80,40 0 0 1 836,493" fill="none" stroke="#333" stroke-width="0.9"/><path d="M705,503 A64,29 0 0 1 819,503" fill="none" stroke="#333" stroke-width="0.9"/><circle cx="673" cy="445" r="1.8" fill="#000"/><circle cx="666" cy="473" r="1.8" fill="#000"/><circle cx="753" cy="407" r="1.8" fill="#000"/><circle cx="793" cy="410" r="1.8" fill="#000"/><circle cx="858" cy="455" r="1.8" fill="#000"/><circle cx="856" cy="482" r="1.8" fill="#000"/><circle cx="730" cy="516" r="1.8" fill="#000"/><circle cx="797" cy="518" r="1.8" fill="#000"/><circle cx="693" cy="533" r="1.8" fill="#000"/><circle cx="831" cy="465" r="1.8" fill="#000"/><circle cx="815" cy="533" r="1.8" fill="#000"/><rect x="758" y="512" width="7" height="6" fill="#000"/><path fill="#000" fill-rule="evenodd" d="M660.4,652.15 A101.6,58.85 0 1 0 863.6,652.15 A101.6,58.85 0 1 0 660.4,652.15 Z M669.6,655.35 A92.4,50.35 0 1 0 854.4,655.35 A92.4,50.35 0 1 0 669.6,655.35 Z"/><path fill="#000" fill-rule="evenodd" d="M660.4,655.15 A101.6,61.85 0 0 0 863.6,655.15 L863.6,652.15 A101.6,58.85 0 0 1 660.4,652.15 Z"/><path fill="#fff" d="M863.46,662.75 L861.02,661.27 L863.81,660.68 Z M862.51,666.52 L860.12,664.77 L863.07,664.49 Z M861.21,670.18 L858.89,668.19 L861.96,668.22 Z M859.60,673.72 L857.36,671.49 L860.51,671.83 Z M857.69,677.12 L855.56,674.66 L858.75,675.31 Z M855.53,680.36 L853.51,677.69 L856.72,678.64 Z M853.14,683.44 L851.24,680.57 L854.46,681.80 Z M850.56,686.35 L848.79,683.31 L851.98,684.80 Z M847.82,689.10 L846.16,685.90 L849.32,687.63 Z M844.92,691.69 L843.40,688.34 L846.50,690.31 Z M841.90,694.12 L840.50,690.64 L843.55,692.82 Z M838.77,696.40 L837.50,692.81 L840.48,695.18 Z M835.54,698.54 L834.39,694.84 L837.31,697.40 Z M832.24,700.54 L831.21,696.74 L834.04,699.47 Z M828.86,702.41 L827.95,698.52 L830.70,701.41 Z M825.41,704.15 L824.62,700.18 L827.29,703.22 Z M821.91,705.76 L821.24,701.73 L823.83,704.90 Z M818.37,707.26 L817.81,703.16 L820.31,706.46 Z M814.78,708.64 L814.33,704.49 L816.74,707.90 Z M811.15,709.92 L810.82,705.72 L813.14,709.24 Z M807.49,711.09 L807.27,706.84 L809.50,710.46 Z M803.80,712.15 L803.69,707.87 L805.82,711.58 Z M800.09,713.11 L800.08,708.80 L802.12,712.60 Z M796.35,713.97 L796.45,709.64 L798.40,713.51 Z M792.60,714.74 L792.81,710.39 L794.66,714.33 Z M788.83,715.42 L789.14,711.05 L790.90,715.06 Z M785.05,716.00 L785.46,711.62 L787.13,715.69 Z M781.26,716.49 L781.77,712.11 L783.34,716.23 Z M777.45,716.89 L778.07,712.51 L779.54,716.68 Z M773.65,717.20 L774.37,712.82 L775.74,717.04 Z M769.83,717.42 L770.65,713.06 L771.93,717.31 Z M766.02,717.56 L766.94,713.21 L768.12,717.49 Z M762.20,717.60 L763.22,713.28 L764.30,717.59 Z M758.39,717.56 L759.51,713.26 L760.49,717.60 Z M754.58,717.44 L755.79,713.17 L756.68,717.52 Z M750.78,717.23 L752.09,712.99 L752.87,717.35 Z M746.98,716.93 L748.39,712.73 L749.07,717.10 Z M743.19,716.54 L744.70,712.38 L745.28,716.76 Z M739.42,716.06 L741.02,711.96 L741.50,716.34 Z M735.65,715.50 L737.35,711.45 L737.73,715.82 Z M731.91,714.84 L733.70,710.85 L733.98,715.21 Z M728.18,714.09 L730.07,710.17 L730.24,714.52 Z M724.48,713.25 L726.45,709.40 L726.52,713.73 Z M720.80,712.31 L722.87,708.54 L722.83,712.84 Z M717.14,711.28 L719.30,707.59 L719.16,711.86 Z M713.52,710.14 L715.77,706.55 L715.52,710.78 Z M709.94,708.90 L712.28,705.41 L711.92,709.60 Z M706.39,707.56 L708.82,704.18 L708.35,708.32 Z M702.89,706.11 L705.41,702.85 L704.82,706.93 Z M699.43,704.55 L702.04,701.41 L701.34,705.43 Z M696.04,702.87 L698.73,699.87 L697.91,703.82 Z M692.70,701.08 L695.47,698.22 L694.54,702.09 Z M689.44,699.16 L692.29,696.45 L691.24,700.24 Z M686.26,697.11 L689.18,694.57 L688.01,698.26 Z M683.17,694.92 L686.16,692.57 L684.87,696.15 Z M680.18,692.60 L683.23,690.44 L681.82,693.91 Z M677.31,690.14 L680.42,688.19 L678.89,691.52 Z M674.57,687.52 L677.73,685.80 L676.07,688.99 Z M671.99,684.76 L675.18,683.27 L673.40,686.31 Z M669.57,681.84 L672.79,680.61 L670.89,683.48 Z M667.36,678.76 L670.57,677.80 L668.56,680.49 Z M665.37,675.53 L668.57,674.86 L666.44,677.34 Z M663.64,672.15 L666.79,671.77 L664.56,674.03 Z M662.19,668.63 L665.26,668.56 L662.95,670.58 Z M661.06,664.98 L664.02,665.22 L661.64,667.00 Z M660.27,661.23 L663.09,661.77 L660.66,663.30 Z"/><path d="M680,627 A96,54 0 0 1 845,627" fill="none" stroke="#fff" stroke-width="0.8"/><path d="M930.5,311.5 L937.5,310 V432.5 L930.5,434 Z" fill="#fff" stroke="#000" stroke-width="2.7" stroke-linejoin="round"/><path d="M909,319 L916,317.5 V440 L909,442 Z" fill="#fff" stroke="#000" stroke-width="2.7" stroke-linejoin="round"/><path d="M908,346 L950,330 V337 L908,352 Z" fill="#fff" stroke="#000" stroke-width="2.7" stroke-linejoin="round"/><path d="M943,331 V323 L952,329 V336" fill="none" stroke="#000" stroke-width="2.7" stroke-linejoin="round"/><line x1="930.5" y1="338" x2="930.5" y2="355" stroke="#000" stroke-width="2.7"/><path d="M908,416 L950,400 V407 L908,422 Z" fill="#fff" stroke="#000" stroke-width="2.7" stroke-linejoin="round"/><path d="M943,401 V393 L952,399 V406" fill="none" stroke="#000" stroke-width="2.7" stroke-linejoin="round"/><line x1="930.5" y1="408" x2="930.5" y2="425" stroke="#000" stroke-width="2.7"/><path d="M596,507 L631.5,494.5 V502 L600,513 Z" fill="#fff" stroke="#000" stroke-width="2.7" stroke-linejoin="round"/><path d="M596,507 V516 L606,521 V512" fill="none" stroke="#000" stroke-width="2.7" stroke-linejoin="round"/><path d="M596,577 L631.5,564.5 V572 L600,583 Z" fill="#fff" stroke="#000" stroke-width="2.7" stroke-linejoin="round"/><path d="M596,577 V586 L606,591 V582" fill="none" stroke="#000" stroke-width="2.7" stroke-linejoin="round"/><path d="M631.5,470 L638.5,469 V590.5 L631.5,592 Z" fill="#fff" stroke="#000" stroke-width="2.7" stroke-linejoin="round"/><path d="M610,478 L617,476.5 V597.5 L610,599 Z" fill="#fff" stroke="#000" stroke-width="2.7" stroke-linejoin="round"/><path d="M617,499 L631.5,494.5 M617,507 L631.5,502" fill="none" stroke="#000" stroke-width="2.7" stroke-linejoin="round"/><path d="M617,569 L631.5,564.5 M617,577 L631.5,572" fill="none" stroke="#000" stroke-width="2.7" stroke-linejoin="round"/><path d="M910.6,639.5 Q915,636 925,636 L961.6,636.5 Q968,637 975,642 L994,654 Q999,658 999,665 V700 Q999,706 992,710 L963,733" fill="none" stroke="#000" stroke-width="2.2" stroke-linejoin="round" stroke-linecap="round"/><path d="M953,673 L998,664" fill="none" stroke="#000" stroke-width="2.2" stroke-linejoin="round" stroke-linecap="round"/><path d="M937.8,639.8 L956,640.4 L982,656 L963,656.5 Z" fill="none" stroke="#000" stroke-width="2.2" stroke-linejoin="round" stroke-linecap="round"/><path d="M969.6,686.9 L987.7,674.4 V706.2 L969.6,717.5 Z" fill="none" stroke="#000" stroke-width="2.2" stroke-linejoin="round" stroke-linecap="round"/><path d="M901,640 Q895,641 895,648 V712 Q895,719 901,722 L944,752 Q952,756 952.6,748 V682 Q952.6,675 946,671 L906,641 Q903,639 901,640 Z" fill="#fff" stroke="#000" stroke-width="3.2" stroke-linejoin="round"/><path d="M903,647 Q900,648 900,652 V711 Q900,716 904,718 L943,745 Q948,748 948,743 V684 Q948,679 944,676 L908,648 Q905,646 903,647 Z" fill="none" stroke="#333" stroke-width="0.9"/><ellipse cx="923" cy="679" rx="14" ry="19" transform="rotate(-20 923 679)" fill="none" stroke="#000" stroke-width="2"/><ellipse cx="923" cy="679" rx="11.5" ry="16" transform="rotate(-20 923 679)" fill="none" stroke="#333" stroke-width="0.9"/><ellipse cx="922" cy="678" rx="5" ry="6" fill="#000"/><path d="M914,674 L931,684" stroke="#000" stroke-width="3"/><circle cx="910.6" cy="697" r="2.8" fill="#000"/><circle cx="934.4" cy="710.7" r="2.8" fill="#000"/><circle cx="923" cy="733" r="2.8" fill="#000"/><circle cx="941.2" cy="737" r="1.4" fill="#000"/><path d="M954,707 L960,704 V715 L954,718 Z" fill="none" stroke="#000" stroke-width="2.2" stroke-linejoin="round" stroke-linecap="round"/><path d="M955,720 L963,717 Q965,717 965,720 V733 Q965,736 962,737 L955,740 Z" fill="#000"/><path d="M957,723 L962,721 V731 L957,733 Z" fill="#fff"/><path d="M959,740 Q960,752 960,762" stroke="#000" stroke-width="3.2" fill="none"/><ellipse cx="960.5" cy="771" rx="6" ry="8" fill="#000"/><circle cx="959" cy="773" r="2" fill="#fff"/><line x1="959.5" y1="777" x2="959.5" y2="781" stroke="#000" stroke-width="2.4"/><path d="M829.4,744 C829,760 829,772 828,780 C825,810 810,830 790,842 L769,853 L720,872 C705,878 697,868 694.5,853.3 L693,824" fill="none" stroke="#000" stroke-width="2.2" stroke-linejoin="round" stroke-linecap="round"/><path d="M845.5,745.5 C841,760 839.5,770 839,785 C836,812 822,835 800,846 L769,862 L728,883 C710,892 692,890 684,873.8 C680,862 681,850 682.8,844.5" fill="none" stroke="#000" stroke-width="2.2" stroke-linejoin="round" stroke-linecap="round"/><path d="M812,826 Q818,832 820,838 M725,872 Q730,877 733,883 M685,860 Q690,856 697,856" fill="none" stroke="#333" stroke-width="0.9"/><ellipse cx="762" cy="852" rx="7" ry="4.5" fill="#fff" stroke="#000" stroke-width="2.2" stroke-linejoin="round" stroke-linecap="round"/><path d="M755,852 V862 Q762,866 769,862 V852" fill="none" stroke="#000" stroke-width="2.2" stroke-linejoin="round" stroke-linecap="round"/><ellipse cx="762" cy="823.3" rx="6" ry="4.2" fill="none" stroke="#000" stroke-width="4"/><line x1="759" y1="823.3" x2="765" y2="823.3" stroke="#000" stroke-width="1"/><ellipse cx="762" cy="891.4" rx="6" ry="4.5" fill="none" stroke="#000" stroke-width="3"/><path d="M757,888 L762,884 L767,888 Z" fill="#000"/><circle cx="762" cy="891" r="1.2" fill="#000"/><path d="M787.6,749.2 L908,680 M804.4,758.8 L910.6,697 M866,713.2 L924,688" fill="none" stroke="#333" stroke-width="0.9" stroke-dasharray="16 5 3 5"/><path d="M851,716 L858,712 Q862,711 863,715 L864,726 Q863,730 859,732 L853,737 Z" fill="#fff" stroke="#000" stroke-width="2.2" stroke-linejoin="round" stroke-linecap="round"/><path d="M846,736 L843.5,748 Q845,752 849,749 L855,737" fill="#fff" stroke="#000" stroke-width="2.2" stroke-linejoin="round" stroke-linecap="round"/><path d="M836,727 L846,721 L850,732 L840,738 Z" fill="#fff" stroke="none"/><path d="M836,726 L846,720.5 M840,738.5 L850,732.5" fill="none" stroke="#000" stroke-width="2.2" stroke-linejoin="round" stroke-linecap="round"/><path d="M853,718 L862,724 M852,726 L860,730" fill="none" stroke="#333" stroke-width="0.9"/><path d="M856,718 L864.5,713.5" stroke="#000" stroke-width="5" stroke-linecap="round"/><path d="M857,717.5 L864,714" stroke="#fff" stroke-width="1.6" stroke-linecap="round"/><ellipse cx="848.3" cy="726" rx="4" ry="9" transform="rotate(-15 848.3 726)" fill="#fff" stroke="#000" stroke-width="2.8"/><path fill="#000" transform="translate(831,732.3) scale(0.85) translate(-831,-732)" d="M831,721 l2.5,-1 l1.5,2 l2.5,0 l1,2.5 l2.5,1.5 l-0.5,2.5 l2,2 l-1,2.5 l1,2.5 l-2,2 l0,2.5 l-2.5,1 l-1,2.5 l-2.5,0 l-1.5,2 l-2.5,-1 l-2.5,1 l-1.5,-2 l-2.5,0 l-1,-2.5 l-2.5,-1.5 l0.5,-2.5 l-2,-2 l1,-2.5 l-1,-2.5 l2,-2 l0,-2.5 l2.5,-1 l1,-2.5 l2.5,0 l1.5,-2 Z"/><g transform="translate(832.3,761) rotate(0)"><path d="M-3.25,-2.025 L-1.7875,-4.5 H1.7875 L3.25,-2.025 V2.025 L1.7875,4.5 H-1.7875 L-3.25,2.025 Z" fill="#000"/></g><g transform="translate(844,780) rotate(0)"><path d="M-3.5,-2.025 L-1.9250000000000003,-4.5 H1.9250000000000003 L3.5,-2.025 V2.025 L1.9250000000000003,4.5 H-1.9250000000000003 L-3.5,2.025 Z" fill="#000"/></g><g transform="translate(793,744.5) rotate(-29.1)"><rect x="-3" y="-4" width="6" height="8" rx="2" fill="#000"/><rect x="2" y="-2.7" width="8.295630140987" height="5.4" rx="2.7" fill="#000"/><line x1="4" y1="0" x2="8.295630140987" y2="0" stroke="#fff" stroke-width="0.8" stroke-dasharray="2 1.5"/></g><g transform="translate(809,754) rotate(-29.1)"><rect x="-3" y="-4" width="6" height="8" rx="2" fill="#000"/><rect x="2" y="-2.7" width="8.295630140987" height="5.4" rx="2.7" fill="#000"/><line x1="4" y1="0" x2="8.295630140987" y2="0" stroke="#fff" stroke-width="0.8" stroke-dasharray="2 1.5"/></g><g transform="translate(694,760) rotate(0)"><path d="M-3.0,-1.8 L-1.6500000000000001,-4.0 H1.6500000000000001 L3.0,-1.8 V1.8 L1.6500000000000001,4.0 H-1.6500000000000001 L-3.0,1.8 Z" fill="#000"/></g><path d="M489.6,938.8 L702.4,806.8 M512,906.8 L549,886 M548.8,905.2 L574.4,889.2 M600,871.6 L660,907" fill="none" stroke="#333" stroke-width="0.9" stroke-dasharray="16 5 3 5"/><path d="M659.6,816.3 L686.7,809.3 L692.7,815.4 L686.7,830.3 L683,844.3 L667,835 Z" fill="#fff" stroke="#000" stroke-width="2.2" stroke-linejoin="round" stroke-linecap="round"/><path d="M648,831.3 L668,822 L672.7,834 L655.4,842 Z" fill="#fff" stroke="none"/><path d="M648,831.3 L668,822 M655.4,842 L672.7,834" fill="none" stroke="#000" stroke-width="2.2" stroke-linejoin="round" stroke-linecap="round"/><ellipse cx="651" cy="836.9" rx="4" ry="6.5" transform="rotate(-25 651 836.9)" fill="#fff" stroke="#000" stroke-width="2.4"/><ellipse cx="688" cy="815.4" rx="4" ry="6.5" transform="rotate(-25 688 815.4)" fill="#fff" stroke="#000" stroke-width="2.4"/><path d="M675,813 L690,836" fill="none" stroke="#333" stroke-width="0.9"/><path d="M656,830 L667,825" fill="none" stroke="#333" stroke-width="0.9"/><circle cx="664.5" cy="818" r="2.6" fill="#000"/><circle cx="666" cy="833" r="1.8" fill="#000"/><circle cx="680" cy="838" r="1.4" fill="#000"/><path d="M693,826 L695,850" stroke="#000" stroke-width="3.2"/><ellipse cx="596.8" cy="868.4" rx="14" ry="19" transform="rotate(-20 596.8 868.4)" fill="#fff" stroke="#000" stroke-width="2.2" stroke-linejoin="round" stroke-linecap="round"/><circle cx="608.6" cy="871.4" r="1.4" fill="#000" transform="rotate(-20 596.8 868.4)"/><circle cx="604.5" cy="881.4" r="1.4" fill="#000" transform="rotate(-20 596.8 868.4)"/><circle cx="596.8" cy="885.4" r="1.4" fill="#000" transform="rotate(-20 596.8 868.4)"/><circle cx="589.1" cy="881.4" r="1.4" fill="#000" transform="rotate(-20 596.8 868.4)"/><circle cx="585.0" cy="871.4" r="1.4" fill="#000" transform="rotate(-20 596.8 868.4)"/><circle cx="586.4" cy="859.9" r="1.4" fill="#000" transform="rotate(-20 596.8 868.4)"/><circle cx="592.7" cy="852.4" r="1.4" fill="#000" transform="rotate(-20 596.8 868.4)"/><circle cx="600.9" cy="852.4" r="1.4" fill="#000" transform="rotate(-20 596.8 868.4)"/><circle cx="607.2" cy="859.9" r="1.4" fill="#000" transform="rotate(-20 596.8 868.4)"/><path d="M582,872 L594,864 Q600,862 601,868 Q602,874 597,877 L585,885 Z" fill="#fff" stroke="#000" stroke-width="2.2" stroke-linejoin="round" stroke-linecap="round"/><ellipse cx="597" cy="869" rx="3.5" ry="5" transform="rotate(-20 597 869)" fill="none" stroke="#000" stroke-width="2.2" stroke-linejoin="round" stroke-linecap="round"/><path d="M575,867 Q574,864 578,864 L582,864 Q585,865 585,868 V890 Q585,893 581,893 L578,893 Q574,892 574,888 Z" fill="#fff" stroke="#000" stroke-width="2.2" stroke-linejoin="round" stroke-linecap="round"/><circle cx="579.5" cy="869" r="1.3" fill="#000"/><circle cx="579.5" cy="888" r="1.3" fill="#000"/><g transform="translate(632,894) rotate(32.0)"><rect x="-3" y="-3.8" width="6" height="7.6" rx="2" fill="#000"/><rect x="2" y="-2.6" width="13.094369811290527" height="5.2" rx="2.6" fill="#000"/><line x1="4" y1="0" x2="13.094369811290527" y2="0" stroke="#fff" stroke-width="0.8" stroke-dasharray="2 1.5"/></g><ellipse cx="644.5" cy="901.5" rx="3.6" ry="4" fill="#000"/><circle cx="644.5" cy="901.5" r="1" fill="#fff"/><ellipse cx="516" cy="915" rx="93.3" ry="54.3" transform="rotate(59 516 915)" fill="none" stroke="#000" stroke-width="2.4"/><ellipse cx="516" cy="915" rx="87" ry="48" transform="rotate(59 516 915)" fill="none" stroke="#000" stroke-width="2.4"/><path d="M511,843 Q519,912 511,980 M522,849 Q530,918 520,987" fill="none" stroke="#000" stroke-width="2.2" stroke-linejoin="round" stroke-linecap="round"/><path d="M513,897 L525,900 M514,927 L526,930" stroke="#333" stroke-width="0.8"/><circle cx="518" cy="875" r="1.6" fill="#000"/><circle cx="520" cy="903" r="1.6" fill="#000"/><circle cx="520" cy="922" r="1.6" fill="#000"/><g transform="translate(497,915) rotate(0)"><path d="M-5.0,-1.8 L-2.75,-4.0 H2.75 L5.0,-1.8 V1.8 L2.75,4.0 H-2.75 L-5.0,1.8 Z" fill="#000"/></g><g transform="translate(497,935) rotate(0)"><path d="M-5.0,-1.8 L-2.75,-4.0 H2.75 L5.0,-1.8 V1.8 L2.75,4.0 H-2.75 L-5.0,1.8 Z" fill="#000"/></g><path d="M596.4,966 V1128 Q596.4,1139 603,1144 L621.5,1157" fill="none" stroke="#000" stroke-width="6" stroke-linecap="round" stroke-linejoin="round"/><path d="M596.4,966 V1128 Q596.4,1139 603,1144 L621.5,1157" fill="none" stroke="#fff" stroke-width="1.8" stroke-linecap="round" stroke-linejoin="round"/><rect x="593.4" y="961" width="6" height="17" fill="#000" rx="3"/><rect x="592" y="1099.6" width="8.8" height="14.6" fill="#000" rx="1"/><path d="M858.3,823.3 L930,861 M858.3,913.3 L930,951 M858.3,923.3 L930,968 M685,923.3 L760,962 M685,1013 L760,1052 M685,1027 L760,1068" fill="none" stroke="#333" stroke-width="0.9" stroke-dasharray="16 5 3 5"/><path d="M704,992 L838.8,917.4 M684,1023.3 L847.6,932.8" fill="none" stroke="#000" stroke-width="2.2" stroke-linejoin="round" stroke-linecap="round"/><path d="M684,1012.7 L838.8,926.5 M684,1014.8 L838.8,928.6" fill="none" stroke="#222" stroke-width="0.8"/><path d="M684,982.7 L706.7,995.7 L691.3,1005.3 L684,1002.7" fill="none" stroke="#000" stroke-width="2.2" stroke-linejoin="round" stroke-linecap="round"/><path d="M843.3,886.7 L816.7,931.7 L822,929 L843,897" fill="none" stroke="#000" stroke-width="2.2" stroke-linejoin="round" stroke-linecap="round"/><path d="M666.7,910.4 L675.3,905.6 L684,910.4 V1028 L675.3,1033 L666.7,1027.3 Z" fill="#fff" stroke="#000" stroke-width="2.2" stroke-linejoin="round" stroke-linecap="round"/><path d="M674.6,913 V1033 M676,913 V1033" fill="none" stroke="#333" stroke-width="0.8"/><path d="M670,910.4 L675.3,907.8 L681,910.4 L675.3,913 Z" fill="none" stroke="#000" stroke-width="2.2" stroke-linejoin="round" stroke-linecap="round"/><path d="M838.8,810.4 L848.4,806.4 L857.2,810.4 V928 L848.4,932.8 L838.8,928 Z" fill="#fff" stroke="#000" stroke-width="2.2" stroke-linejoin="round" stroke-linecap="round"/><path d="M847.7,813 V932 M849.1,813 V932" fill="none" stroke="#333" stroke-width="0.8"/><path d="M842,810 L848.4,807.8 L854,810 L848.4,813 Z" fill="none" stroke="#000" stroke-width="2.2" stroke-linejoin="round" stroke-linecap="round"/><path d="M667,921 L660,924 L662,930 L668,928 M660,924 L664,932" fill="none" stroke="#000" stroke-width="2.2" stroke-linejoin="round" stroke-linecap="round"/><circle cx="680.3" cy="920" r="2" fill="#000"/><circle cx="680.3" cy="1008.3" r="2" fill="#000"/><circle cx="680.3" cy="1024.3" r="2" fill="#000"/><circle cx="853" cy="818" r="2" fill="#000"/><circle cx="853" cy="910" r="2" fill="#000"/><circle cx="853" cy="922" r="2" fill="#000"/><circle cx="672" cy="973" r="1.3" fill="#444"/><circle cx="845" cy="860" r="1.3" fill="#444"/><g transform="translate(821,874.5) rotate(-29.7)"><rect x="-3" y="-4.2" width="6" height="8.4" rx="2" fill="#000"/><rect x="2" y="-2.4" width="11.122880781291869" height="4.8" rx="2.4" fill="#000"/><line x1="4" y1="0" x2="11.122880781291869" y2="0" stroke="#fff" stroke-width="0.8" stroke-dasharray="2 1.5"/></g><g transform="translate(911.7,853.3) rotate(26.7)"><rect x="-1" y="-2.4" width="14.892279879185706" height="4.8" rx="2.4" fill="#000"/><path d="M11.892279879185706,-4.2 H16.892279879185708 L18.892279879185708,-2.1 V2.1 L16.892279879185708,4.2 H11.892279879185706 Z" fill="#000"/><line x1="1" y1="0" x2="10.892279879185706" y2="0" stroke="#fff" stroke-width="0.7" stroke-dasharray="1.5 1.5"/></g><g transform="translate(911.7,943.3) rotate(26.7)"><rect x="-1" y="-2.4" width="14.892279879185706" height="4.8" rx="2.4" fill="#000"/><path d="M11.892279879185706,-4.2 H16.892279879185708 L18.892279879185708,-2.1 V2.1 L16.892279879185708,4.2 H11.892279879185706 Z" fill="#000"/><line x1="1" y1="0" x2="10.892279879185706" y2="0" stroke="#fff" stroke-width="0.7" stroke-dasharray="1.5 1.5"/></g><g transform="translate(911.7,958) rotate(27.8)"><rect x="-1" y="-2.4" width="15.029637387508682" height="4.8" rx="2.4" fill="#000"/><path d="M12.029637387508682,-4.2 H17.029637387508682 L19.029637387508682,-2.1 V2.1 L17.029637387508682,4.2 H12.029637387508682 Z" fill="#000"/><line x1="1" y1="0" x2="11.029637387508682" y2="0" stroke="#fff" stroke-width="0.7" stroke-dasharray="1.5 1.5"/></g><g transform="translate(737,951) rotate(34.7)"><rect x="-1" y="-2.4" width="15.811388300841896" height="4.8" rx="2.4" fill="#000"/><path d="M12.811388300841896,-4.2 H17.811388300841898 L19.811388300841898,-2.1 V2.1 L17.811388300841898,4.2 H12.811388300841896 Z" fill="#000"/><line x1="1" y1="0" x2="11.811388300841896" y2="0" stroke="#fff" stroke-width="0.7" stroke-dasharray="1.5 1.5"/></g><g transform="translate(739,1041) rotate(24.8)"><rect x="-1" y="-2.4" width="14.317821063276353" height="4.8" rx="2.4" fill="#000"/><path d="M11.317821063276353,-4.2 H16.317821063276355 L18.317821063276355,-2.1 V2.1 L16.317821063276355,4.2 H11.317821063276353 Z" fill="#000"/><line x1="1" y1="0" x2="10.317821063276353" y2="0" stroke="#fff" stroke-width="0.7" stroke-dasharray="1.5 1.5"/></g><g transform="translate(739,1057) rotate(24.8)"><rect x="-1" y="-2.4" width="14.317821063276353" height="4.8" rx="2.4" fill="#000"/><path d="M11.317821063276353,-4.2 H16.317821063276355 L18.317821063276355,-2.1 V2.1 L16.317821063276355,4.2 H11.317821063276353 Z" fill="#000"/><line x1="1" y1="0" x2="10.317821063276353" y2="0" stroke="#fff" stroke-width="0.7" stroke-dasharray="1.5 1.5"/></g><path d="M647.4,1183 L657,1173 L660,1176 L666.6,1180 V1194 L675,1197 L684,1192 L704.5,1201.5 L693.6,1210.5 Z" fill="#fff" stroke="#000" stroke-width="2.2" stroke-linejoin="round" stroke-linecap="round"/><path d="M684,1196 L701,1204.5" stroke="#444" stroke-width="0.8"/><path d="M660,1178 L666,1182" stroke="#444" stroke-width="0.8"/><path d="M666.6,1054.4 L675,1049.6 L684,1054.4 V1196 L675,1197 L666.6,1194 Z" fill="#fff" stroke="#000" stroke-width="2.2" stroke-linejoin="round" stroke-linecap="round"/><path d="M675,1058 V1197 M669,1054.4 L675,1051.5 L681.5,1054.4 L675,1057.5 Z M666.6,1085.6 L675,1087 M671.5,1056 V1086" fill="none" stroke="#000" stroke-width="2.2" stroke-linejoin="round" stroke-linecap="round"/><path d="M676.2,1090 V1197" stroke="#333" stroke-width="0.8"/><path d="M659.4,1126.4 L666,1122.8 L674.4,1127.6 L666,1131.2 Z" fill="#fff" stroke="#000" stroke-width="2.2" stroke-linejoin="round" stroke-linecap="round"/><circle cx="679.2" cy="1062.2" r="2" fill="#000"/><circle cx="679.2" cy="1078.4" r="2" fill="#000"/><path d="M789.9,1030.9 L839.7,989.9 M798.7,1036.8 L839.7,1004.5" fill="none" stroke="#000" stroke-width="2.2" stroke-linejoin="round" stroke-linecap="round"/><path d="M855.8,989.9 L916,1105.7 L910,1108.6 L851.4,994.3" fill="none" stroke="#000" stroke-width="2.2" stroke-linejoin="round" stroke-linecap="round"/><ellipse cx="930.5" cy="1118.5" rx="2.8" ry="3.8" transform="rotate(-30 930.5 1118.5)" fill="none" stroke="#000" stroke-width="2.2" stroke-linejoin="round" stroke-linecap="round"/><path d="M839.7,954.7 L847.8,950.3 L857.3,954.7 V1003 L848.5,1006.7 L839.7,1003 Z M848.5,958 V1006 M839.7,987 L848.5,990 L857.3,987" fill="#fff" stroke="#000" stroke-width="2.2" stroke-linejoin="round" stroke-linecap="round"/><path d="M842,955 L848,952.5 L854,955 L848,957.5 Z" fill="none" stroke="#000" stroke-width="2.2" stroke-linejoin="round" stroke-linecap="round"/><circle cx="853" cy="963" r="1.8" fill="#000"/><circle cx="853" cy="978" r="1.8" fill="#000"/><ellipse cx="774.5" cy="1031" rx="22" ry="28" transform="rotate(25 774.5 1031)" fill="#000"/><ellipse cx="779.5" cy="1033.5" rx="16.5" ry="23" transform="rotate(25 779.5 1033.5)" fill="#fff" stroke="#000" stroke-width="2"/><ellipse cx="780.0" cy="1034" rx="12.5" ry="18.5" transform="rotate(25 780.0 1034)" fill="none" stroke="#000" stroke-width="2"/><ellipse cx="779.0" cy="1033" rx="15" ry="21.3" transform="rotate(25 779.0 1033)" fill="none" stroke="#555" stroke-width="0.7"/><circle cx="782" cy="1034.5" r="3.8" fill="#fff" stroke="#000" stroke-width="2.6"/><ellipse cx="978" cy="1147" rx="22" ry="28" transform="rotate(25 978 1147)" fill="#000"/><ellipse cx="983" cy="1149.5" rx="16.5" ry="23" transform="rotate(25 983 1149.5)" fill="#fff" stroke="#000" stroke-width="2"/><ellipse cx="983.5" cy="1150" rx="12.5" ry="18.5" transform="rotate(25 983.5 1150)" fill="none" stroke="#000" stroke-width="2"/><ellipse cx="982.5" cy="1149" rx="15" ry="21.3" transform="rotate(25 982.5 1149)" fill="none" stroke="#555" stroke-width="0.7"/><circle cx="985.4" cy="1151.6" r="3.8" fill="#fff" stroke="#000" stroke-width="2.6"/><path d="M960,1141 L972,1148" stroke="#333" stroke-width="0.9"/><path d="M782,1031 L929,1116 L926,1121.5 L779,1036.5 Z" fill="#fff"/><path d="M784,1030 L932,1115.5 M780,1037.5 L928,1121" fill="none" stroke="#000" stroke-width="2.2" stroke-linejoin="round" stroke-linecap="round"/><ellipse cx="930" cy="1118.3" rx="2.8" ry="3.8" transform="rotate(-30 930 1118.3)" fill="#fff" stroke="#000" stroke-width="2.2" stroke-linejoin="round" stroke-linecap="round"/><circle cx="782" cy="1034.5" r="3.4" fill="#fff" stroke="#000" stroke-width="2.4"/><ellipse cx="949.4" cy="1130" rx="4" ry="6" transform="rotate(25 949.4 1130)" fill="#000"/><ellipse cx="1010" cy="1166" rx="4" ry="6" transform="rotate(25 1010 1166)" fill="#000"/><circle cx="949.4" cy="1130" r="1.2" fill="#fff"/><circle cx="1010" cy="1166" r="1.2" fill="#fff"/><line x1="1028.8" y1="1182.9" x2="1038.6" y2="1177.8" stroke="#000" stroke-width="3" stroke-linecap="round"/>
<line x1="0" y1="1371.7" x2="1500" y2="1371.7" stroke="#000" stroke-width="2"/>
<rect x="31" y="1406" width="215.5" height="60" fill="#808084"/>
<path fill="#fff" d="M66.6,1416.8 L85.6,1436 L66.6,1455.2 L56.8,1445.2 H69.6 C72.5,1445.2 74.2,1443 74.2,1440 C74.2,1438 73.2,1436.5 72.8,1436 C73.2,1435.5 74.2,1434 74.2,1432 C74.2,1429 72.5,1427.2 69.6,1427.2 H56.8 Z"/>
<rect x="47" y="1431" width="21.8" height="3.3" rx="1.6" fill="#fff"/>
<rect x="47" y="1438" width="21.8" height="3.3" rx="1.6" fill="#fff"/>
<path fill="#fff" fill-rule="evenodd" d="M94,1428.5 L97.5,1422.5 H117 Q123.5,1422.5 123.5,1428.5 V1443 Q123.5,1449 117,1449 H97.5 L94,1443 V1442 H115.5 V1439.5 H104 V1434.5 H115.5 V1429 H94 Z"/>
<path fill="#fff" fill-rule="evenodd" d="M128,1422.5 H137 V1433 H151 V1422.5 H158.5 V1443 Q158.5,1449 152,1449 H128 V1442.5 H151 V1441 H134 Q128,1441 128,1435 Z"/>
<path fill="#fff" fill-rule="evenodd" d="M164,1422.5 H193 V1429 H173 V1434.5 H189 Q195.5,1434.5 195.5,1441 V1443 Q195.5,1449 189,1449 H164 Z M173,1438.5 H187 V1442 H173 Z"/>
<path fill="#fff" fill-rule="evenodd" d="M199,1449 V1422.5 H224.5 Q231,1422.5 231,1429 V1433 Q231,1439.5 224.5,1439.5 H208 V1449 Z M208,1430 H223 V1433 H208 Z"/>
<circle cx="1395.2" cy="1028.2" r="1.2" fill="#000"/>
</svg>
<div class="t1" id="ta">БМЧ-140.</div><div class="t2" id="tb">Схема 1-3 (Схема-состав. Бетоносмеситель)</div>
</body></html>
